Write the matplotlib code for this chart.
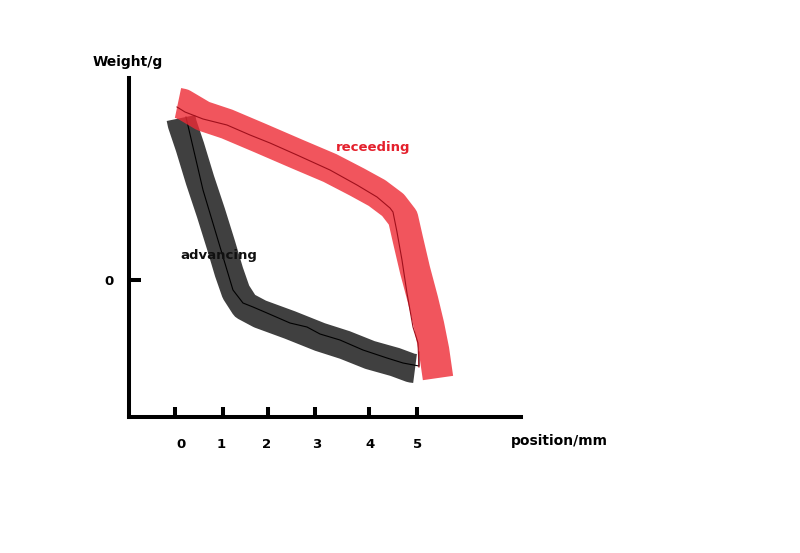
#!/usr/bin/env python3
# -*- coding: utf-8 -*-
"""
Sketch of weight vs position loop (advancing / receeding)
"""

import matplotlib as mpl
mpl.use('Agg')

import numpy as np
import matplotlib.pyplot as plt
import matplotlib.transforms as mtransforms

#--- data (position in mm, weight in arbitrary g units) ---#
adv_x = [0.124, 0.150, 0.310, 0.517, 0.744, 0.950, 1.116, 1.260, 1.446, 1.756,
         2.376, 2.996, 3.512, 4.029, 4.545, 4.880, 4.960]
adv_y = [3.24, 3.12, 2.66, 2.00, 1.34, 0.70, 0.16, -0.24, -0.52, -0.68,
         -0.90, -1.14, -1.30, -1.50, -1.64, -1.76, -1.77]

adv_line_x = [0.227, 0.372, 0.579, 0.888, 1.074, 1.198, 1.405, 1.612, 1.901,
              2.376, 2.727, 2.996, 3.409, 3.884, 4.380, 4.711, 5.041, 5.041]
adv_line_y = [3.26, 2.66, 1.80, 0.80, 0.20, -0.20, -0.46, -0.54, -0.66,
              -0.86, -0.94, -1.08, -1.20, -1.40, -1.56, -1.66, -1.72, -1.44]

rec_x = [0.062, 0.160, 0.579, 1.074, 1.756, 2.521, 3.202, 3.760, 4.174, 4.504,
         4.711, 4.814, 4.959, 5.124, 5.248, 5.351, 5.434]
rec_y = [3.54, 3.52, 3.28, 3.12, 2.84, 2.52, 2.24, 1.96, 1.74, 1.50,
         1.24, 0.80, 0.20, -0.40, -0.90, -1.40, -1.96]

rec_line_x = [0.041, 0.207, 0.579, 1.074, 1.550, 1.963, 2.521, 3.202, 3.760,
              4.174, 4.442, 4.504, 4.587, 4.690, 4.793, 4.917, 5.021, 5.041]
rec_line_y = [3.46, 3.36, 3.22, 3.10, 2.90, 2.74, 2.50, 2.20, 1.90,
              1.66, 1.44, 1.36, 0.96, 0.40, -0.26, -0.94, -1.26, -1.74]

xtick_pos = [0, 1.0, 1.92, 2.9, 4.0, 5.0]
xtick_lab = ['0', '1', '2', '3', '4', '5']
ytick_pos = [0]
ytick_lab = ['0']

fig = plt.figure(figsize=(8, 5.53), dpi=100)
ax = fig.add_axes([0.16125, 0.24593, 0.49, 0.61302])

#--- thick hand drawn bands ---#
ax.plot(adv_x, adv_y, color='#404040', lw=21, solid_capstyle='butt',
        solid_joinstyle='round', zorder=2)
ax.plot(adv_line_x, adv_line_y, color='k', lw=0.8, zorder=3)
ax.plot(rec_x, rec_y, color='#ee2a35', alpha=0.8, lw=22,
        solid_capstyle='butt', solid_joinstyle='round', zorder=4)
ax.plot(rec_line_x, rec_line_y, color='#a0101c', lw=0.8, zorder=5)

ax.set_xlim(-0.950, 7.149)
ax.set_ylim(-2.74, 4.04)

#--- axes styling ---#
for s in ['top', 'right']:
    ax.spines[s].set_visible(False)
for s in ['left', 'bottom']:
    ax.spines[s].set_linewidth(2.9)
    ax.spines[s].set_color('k')

ax.set_xticks(xtick_pos)
ax.set_xticklabels(xtick_lab, fontsize=9.5, fontweight='bold')
ax.set_yticks(ytick_pos)
ax.set_yticklabels(ytick_lab, fontsize=9.5, fontweight='bold')
ax.tick_params(axis='x', direction='in', length=7, width=2.9, pad=15)
ax.tick_params(axis='y', direction='in', length=8.6, width=2.9, pad=11)

#--- hand drawn labels sit a little off the ticks ---#
label_shift = [6, -2, -1, 1, 1, 1]  # pixels
for lab, dx in zip(ax.get_xticklabels(), label_shift):
    off = mtransforms.ScaledTranslation(dx/100., 0, fig.dpi_scale_trans)
    lab.set_transform(lab.get_transform() + off)

#--- labels ---#
ax.text(-0.981, 4.36, 'Weight/g', fontsize=10, fontweight='bold',
        ha='center', va='center', clip_on=False)
ax.text(7.944, -3.22, 'position/mm', fontsize=10, fontweight='bold',
        ha='center', va='center', clip_on=False)
ax.text(4.091, 2.66, 'receeding', fontsize=9.5, fontweight='bold',
        color='#e4202c', ha='center', va='center', zorder=6)
ax.text(0.909, 0.50, 'advancing', fontsize=9.5, fontweight='bold',
        color='#101010', ha='center', va='center', zorder=6)

fig.savefig('out.png', dpi=100)
